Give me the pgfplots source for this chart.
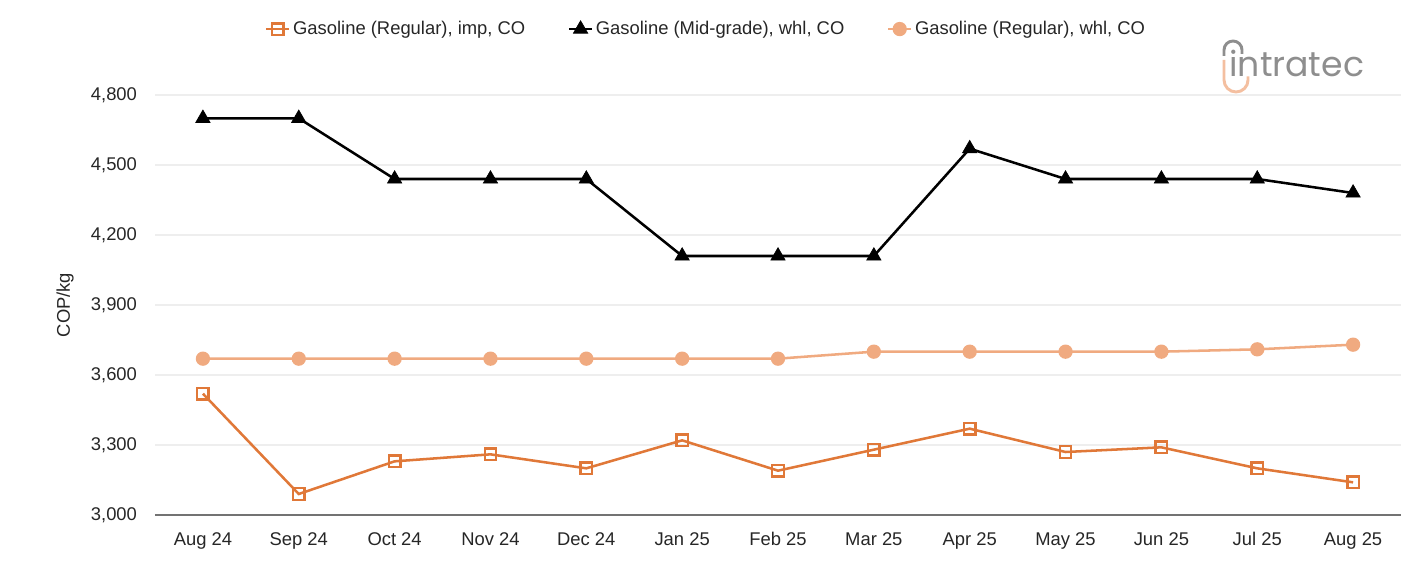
\documentclass[border=0pt]{standalone}
\usepackage{fontspec}
\setmainfont{Liberation Sans}
\usepackage{pgfplots}
\pgfplotsset{compat=1.18}
\definecolor{dkor}{HTML}{E07838}
\definecolor{ltor}{HTML}{F0AA80}
\definecolor{gridc}{HTML}{EEEEEE}
\definecolor{logog}{HTML}{8E8E8E}
\begin{document}
\begin{tikzpicture}
\begin{axis}[
  scale only axis,
  width=934.5pt, height=315pt,
  at={(0,0)}, anchor=south west,
  xmin=-0.5, xmax=12.5,
  ymin=3000, ymax=4800,
  xtick={0,...,12},
  xticklabels={Aug 24,Sep 24,Oct 24,Nov 24,Dec 24,Jan 25,Feb 25,Mar 25,Apr 25,May 25,Jun 25,Jul 25,Aug 25},
  ytick={3000,3300,...,4800},
  /pgf/number format/assume math mode=true,
  /pgf/number format/1000 sep={,},
  scaled y ticks=false,
  ymajorgrids,
  grid style={draw=gridc, line width=0.8pt},
  axis x line*=bottom, axis y line*=left,
  y axis line style={draw=none},
  x axis line style={-, draw=gray!90!black, line width=0.8pt},
  major tick length=0pt,
  tick label style={font=\fontsize{13.8}{16}\selectfont, text=black!85},
  xticklabel style={anchor=base, yshift=-23pt},
  yticklabel style={xshift=-10pt},
  ylabel={COP/kg},
  ylabel style={at={(axis description cs:-0.0722,0.5)}, anchor=center, font=\fontsize{13.8}{16}\selectfont, text=black!85},
  clip=false,
  legend style={at={(axis description cs:0.4426,1.157)}, anchor=center, draw=none, fill=none,
    legend columns=-1, font=\fontsize{13.8}{16}\selectfont, text=black!85,
    /tikz/every even column/.append style={column sep=30pt}},
  legend cell align=left,
]
\addplot[dkor, line width=1.9pt, mark=square, mark size=4.3pt, mark options={solid, fill=white, line width=1.8pt}]
coordinates {(0,3520)(1,3090)(2,3230)(3,3260)(4,3200)(5,3320)(6,3190)(7,3280)(8,3370)(9,3270)(10,3290)(11,3200)(12,3140)};
\addlegendentry{Gasoline (Regular), imp, CO}
\addplot[black, line width=1.9pt, mark=triangle*, mark size=6.2pt, mark options={solid, line width=0.5pt}]
coordinates {(0,4700)(1,4700)(2,4440)(3,4440)(4,4440)(5,4110)(6,4110)(7,4110)(8,4570)(9,4440)(10,4440)(11,4440)(12,4380)};
\addlegendentry{Gasoline (Mid-grade), whl, CO}
\addplot[ltor, line width=1.9pt, mark=*, mark size=4.4pt, mark options={solid, fill=ltor, draw=ltor}]
coordinates {(0,3670)(1,3670)(2,3670)(3,3670)(4,3670)(5,3670)(6,3670)(7,3700)(8,3700)(9,3700)(10,3700)(11,3710)(12,3730)};
\addlegendentry{Gasoline (Regular), whl, CO}
\end{axis}
\node[anchor=base west, text=logog, font=\fontspec{Poppins}\fontsize{26}{30}\selectfont, inner sep=0pt] at (805.5pt,328.5pt) {intratec};
\draw[logog, line width=2.2pt] (801.75pt,344.25pt) -- (801.75pt,348.75pt) arc[start angle=180, end angle=0, radius=6.75pt] -- (815.25pt,345.75pt);
\draw[ltor!75, line width=2.2pt] (801.75pt,341.25pt) -- (801.75pt,326.25pt) arc[start angle=180, end angle=360, radius=9pt] -- (819.75pt,329pt);
\pgfresetboundingbox
\path[use as bounding box] (-116.25pt,-34.5pt) rectangle (934.5pt,386.25pt);
\end{tikzpicture}
\end{document}
